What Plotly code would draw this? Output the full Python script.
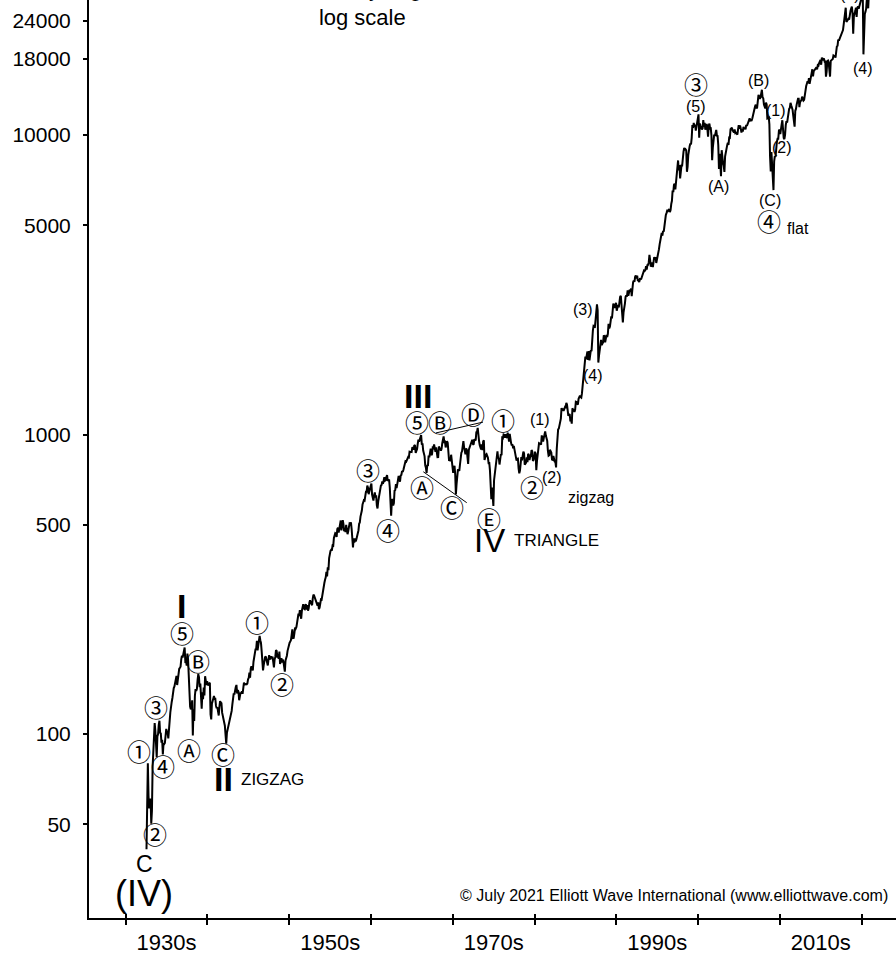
import numpy as np
import pandas as pd
import plotly.graph_objects as go

# Dow Jones Industrial Average, monthly values (turning-point months use the extreme)
djia_1930s = [41.2, 73.2, 79.9, 61.9, 56.4, 59.9,
              60.9, 50.2, 55.4, 77.7, 88.1, 98.1, 108.7, 102.4, 94.4, 83.6, 98.1, 99.9,
              107.2, 110.7, 101.0, 100.5, 93.6, 95.7, 85.5, 93.0, 92.6, 93.4, 103.0, 104.0,
              101.7, 100.9, 96.7, 109.5, 110.6, 118.2, 126.2, 127.9, 131.9, 139.7, 142.3, 144.1,
              149.5, 152.5, 156.3, 145.7, 152.6, 157.7, 164.9, 166.3, 167.8, 177.4, 182.7, 179.9,
              186.4, 187.2, 194.4, 174.3, 174.7, 169.3, 185.5, 177.4, 154.6, 138.8, 123.5, 121.0,
              121.9, 129.6, 98.9, 121.0, 110.6, 133.9, 141.2, 139.3, 141.5, 151.7, 158.4, 154.8,
              143.3, 147.3, 131.8, 121.4, 137.7, 130.6, 143.0, 134.4, 155.9, 151.9, 145.7, 150.2]
djia_1940s = [145.3, 146.5, 147.5, 148.4, 116.2, 111.8, 126.1, 129.6, 132.6, 133.9, 131.0, 131.1,
              124.1, 121.9, 122.7, 115.5, 115.3, 123.1, 128.8, 127.4, 126.8, 117.8, 114.7, 111.0,
              109.1, 106.6, 99.5, 92.9, 100.9, 103.3, 106.1, 107.0, 109.1, 114.1, 114.5, 119.4,
              125.6, 130.1, 136.6, 135.5, 142.1, 143.4, 145.8, 136.6, 140.1, 138.3, 129.6, 135.9,
              137.4, 136.3, 138.8, 136.2, 142.2, 148.4, 146.1, 146.7, 146.7, 146.5, 147.3, 152.3,
              153.8, 160.4, 154.1, 165.4, 168.3, 165.3, 162.9, 174.3, 181.7, 186.6, 192.0, 192.9,
              204.7, 190.1, 199.8, 206.8, 212.5, 205.6, 201.6, 189.2, 172.4, 163.1, 169.8, 177.2,
              180.4, 181.4, 177.2, 170.6, 169.3, 177.3, 183.2, 178.9, 177.5, 181.8, 179.4, 181.2,
              175.1, 166.8, 177.2, 180.9, 190.7, 189.5, 181.3, 181.7, 178.3, 188.6, 171.2, 177.3,
              179.1, 173.1, 177.1, 174.1, 168.4, 161.6, 175.9, 178.7, 182.5, 189.5, 193.6, 200.1]
djia_1950s = [201.8, 203.4, 206.1, 214.3, 223.4, 209.1, 209.4, 216.9, 226.4, 225.0, 227.6, 235.4,
              248.8, 252.1, 247.9, 259.1, 249.7, 242.6, 257.9, 270.3, 271.2, 262.4, 261.3, 269.2,
              270.7, 260.1, 269.5, 258.0, 262.9, 274.3, 279.6, 275.0, 270.6, 269.2, 283.7, 291.9,
              289.8, 284.3, 279.9, 274.8, 272.3, 268.3, 275.4, 261.2, 264.0, 276.3, 281.4, 280.9,
              292.4, 294.5, 303.5, 319.3, 327.5, 333.5, 347.9, 335.8, 360.5, 352.1, 386.8, 404.4,
              408.8, 411.9, 409.7, 425.7, 424.9, 451.4, 465.9, 468.2, 466.6, 454.9, 483.3, 488.4,
              470.7, 483.7, 511.8, 516.1, 478.1, 492.8, 517.8, 502.0, 475.3, 480.0, 472.8, 499.5,
              479.2, 464.6, 474.8, 494.4, 504.9, 503.3, 508.5, 484.4, 456.3, 419.8, 449.9, 435.7,
              450.0, 439.9, 446.8, 455.9, 462.7, 478.2, 503.0, 508.6, 532.1, 543.2, 557.5, 583.7,
              594.0, 603.5, 601.7, 623.8, 643.8, 643.6, 674.9, 664.4, 631.7, 646.6, 659.2, 679.4]
djia_1960s = [685.5, 630.1, 616.6, 601.7, 625.5, 641.0, 616.7, 626.0, 580.1, 566.1, 597.2, 615.9,
              648.2, 662.1, 676.6, 678.7, 696.7, 684.0, 705.4, 719.9, 701.2, 703.9, 721.6, 731.1,
              700.0, 708.1, 707.0, 665.3, 613.4, 535.8, 597.9, 609.2, 579.0, 589.8, 649.3, 652.1,
              682.9, 662.9, 682.5, 717.7, 727.0, 706.9, 695.4, 729.3, 732.8, 755.2, 750.5, 763.0,
              785.3, 800.1, 813.3, 810.8, 820.6, 831.5, 841.1, 838.5, 875.4, 873.1, 875.4, 874.1,
              902.9, 903.5, 889.1, 922.3, 918.0, 868.0, 881.7, 893.1, 930.6, 960.8, 946.7, 969.3,
              983.5, 995.2, 924.8, 933.7, 884.1, 870.1, 847.4, 788.4, 774.2, 744.3, 791.6, 785.7,
              849.9, 839.4, 866.0, 897.1, 852.6, 860.3, 904.2, 901.3, 926.7, 879.7, 875.8, 905.1,
              855.5, 840.5, 840.7, 912.2, 899.0, 897.8, 883.0, 896.0, 935.8, 952.4, 985.1, 943.8,
              946.1, 905.2, 935.5, 950.2, 937.6, 873.2, 815.5, 836.7, 813.1, 856.0, 812.3, 800.4]
djia_1970s = [744.1, 777.6, 785.6, 736.1, 631.2, 683.5, 734.1, 764.6, 760.7, 755.6, 794.1, 838.9,
              868.5, 878.8, 904.4, 950.8, 907.8, 891.1, 858.4, 898.1, 887.2, 839.0, 798.0, 890.2,
              902.2, 928.1, 940.7, 954.2, 960.7, 929.0, 924.7, 963.7, 953.3, 955.5, 1018.2, 1020.0,
              1051.7, 955.1, 951.0, 921.4, 901.4, 891.7, 926.4, 887.6, 947.1, 956.6, 822.3, 850.9,
              855.6, 860.5, 846.7, 836.8, 802.2, 802.4, 757.4, 678.6, 607.9, 665.5, 618.7, 577.6,
              703.7, 739.1, 768.2, 821.3, 832.3, 879.0, 831.5, 835.3, 793.9, 836.0, 860.7, 852.4,
              975.3, 972.6, 999.5, 996.9, 975.2, 1002.8, 984.6, 973.7, 1014.8, 964.9, 947.2, 1004.7,
              954.4, 936.4, 919.1, 926.9, 898.7, 916.3, 890.1, 861.5, 847.1, 818.4, 829.7, 831.2,
              769.9, 742.1, 757.4, 837.3, 840.6, 819.0, 862.3, 876.8, 865.8, 792.5, 799.0, 805.0,
              839.2, 808.8, 862.2, 854.9, 822.3, 842.0, 846.4, 887.6, 878.6, 815.7, 822.4, 838.7]
djia_1980s = [875.9, 863.1, 760.0, 817.1, 850.9, 867.9, 935.3, 932.6, 932.4, 924.5, 993.3, 964.0,
              947.3, 974.6, 1003.9, 1024.1, 991.8, 976.9, 952.3, 881.5, 850.0, 853.2, 889.0, 875.0,
              871.1, 824.4, 822.8, 848.4, 819.5, 811.9, 808.6, 776.9, 896.3, 991.7, 1039.3, 1046.5,
              1075.7, 1112.6, 1130.0, 1226.2, 1200.0, 1222.0, 1199.2, 1216.2, 1233.1, 1225.2, 1276.0, 1258.6,
              1220.6, 1154.6, 1164.9, 1170.8, 1104.9, 1132.4, 1086.6, 1224.4, 1206.7, 1207.4, 1188.9, 1211.6,
              1286.8, 1284.0, 1266.8, 1258.1, 1315.4, 1335.5, 1347.5, 1334.0, 1328.6, 1374.3, 1472.1, 1546.7,
              1571.0, 1709.1, 1818.6, 1784.0, 1876.7, 1892.7, 1775.3, 1898.3, 1767.6, 1877.8, 1914.2, 1896.0,
              2158.0, 2224.0, 2304.7, 2286.4, 2291.6, 2418.5, 2572.1, 2722.4, 2596.3, 1738.7, 1833.6, 1938.8,
              1958.2, 2071.6, 1988.1, 2032.3, 2031.1, 2141.7, 2128.7, 2031.7, 2112.9, 2148.7, 2114.5, 2168.6,
              2342.3, 2258.4, 2293.6, 2418.8, 2480.2, 2440.1, 2660.7, 2737.3, 2692.8, 2645.1, 2706.3, 2753.2]
djia_1990s = [2590.5, 2627.3, 2707.2, 2656.8, 2876.7, 2880.7, 2905.2, 2614.4, 2452.5, 2365.1, 2559.7, 2633.7,
              2736.4, 2882.2, 2913.9, 2887.9, 3027.5, 2906.8, 3024.8, 3043.6, 3016.8, 3069.1, 2894.7, 3168.8,
              3223.4, 3267.7, 3235.5, 3359.1, 3396.9, 3318.5, 3393.8, 3257.4, 3271.7, 3226.3, 3305.2, 3301.1,
              3310.0, 3370.8, 3435.1, 3427.6, 3527.4, 3516.1, 3539.5, 3651.3, 3555.1, 3680.6, 3684.0, 3754.1,
              3978.4, 3832.0, 3636.0, 3681.7, 3758.4, 3625.0, 3764.5, 3913.4, 3843.2, 3908.1, 3739.2, 3834.4,
              3843.9, 4011.1, 4157.7, 4321.3, 4465.1, 4556.1, 4708.5, 4610.6, 4789.1, 4755.5, 5074.5, 5117.1,
              5395.3, 5485.6, 5587.1, 5569.1, 5643.2, 5654.6, 5528.9, 5616.2, 5882.2, 6029.4, 6521.7, 6448.3,
              6813.1, 6877.7, 6583.5, 7009.0, 7331.0, 7672.8, 8222.6, 7622.4, 7945.3, 7161.2, 7823.1, 7908.3,
              7906.5, 8545.7, 8799.8, 9063.4, 8900.0, 8952.0, 8883.3, 7539.1, 7842.6, 8592.1, 9116.6, 9181.4,
              9358.8, 9306.6, 9786.2, 10789.0, 10559.7, 10970.8, 10655.2, 10829.3, 10337.0, 10729.9, 10877.8, 11497.1]
djia_2000s = [11723.0, 9796.0, 10921.9, 10733.9, 10522.3, 10447.9, 10522.0, 11215.1, 10650.9, 10971.1, 10414.5, 10786.9,
              10887.4, 10495.3, 9878.8, 10735.0, 10911.9, 10502.4, 10522.8, 9949.8, 8235.8, 9075.1, 9851.6, 10021.5,
              9920.0, 10106.1, 10403.9, 9946.2, 9925.3, 9243.3, 7702.3, 8663.5, 7591.9, 7286.3, 8896.1, 8341.6,
              8053.8, 7891.1, 7524.1, 8480.1, 8850.3, 8985.4, 9233.8, 9415.8, 9275.1, 9801.1, 9782.5, 10453.9,
              10488.1, 10583.9, 10357.7, 10225.6, 10188.5, 10435.5, 10139.7, 10173.9, 10080.3, 10027.5, 10428.0, 10783.0,
              10489.9, 10766.2, 10503.8, 10192.5, 10467.5, 10275.0, 10640.9, 10481.6, 10568.7, 10440.1, 10805.9, 10717.5,
              10864.9, 10993.4, 11109.3, 11367.1, 11168.3, 11150.2, 11185.7, 11381.2, 11679.1, 12080.7, 12221.9, 12463.2,
              12621.7, 12268.6, 12354.4, 13062.9, 13627.6, 13408.6, 13212.0, 13357.7, 13895.6, 14164.5, 13371.7, 13264.8,
              12650.4, 12266.4, 12262.9, 12820.1, 12638.3, 11350.0, 11378.0, 11543.6, 10850.7, 8451.2, 7552.3, 8776.4,
              8000.9, 7062.9, 6547.1, 8168.1, 8500.3, 8447.0, 9171.6, 9496.3, 9712.3, 9712.7, 10344.8, 10428.1]
djia_2010s = [10067.3, 10325.3, 10856.6, 11205.0, 10136.6, 9774.0, 9686.5, 10014.7, 10788.1, 11118.5, 11006.0, 11577.5,
              11891.9, 12226.3, 12319.7, 12810.5, 12569.8, 12414.3, 12143.2, 11613.5, 10913.4, 10655.3, 12045.7, 12217.6,
              12632.9, 12952.1, 13212.0, 13213.6, 12393.5, 12880.1, 13008.7, 13090.8, 13437.1, 13096.5, 13025.6, 13104.1,
              13860.6, 14054.5, 14578.5, 14839.8, 15115.6, 14909.6, 15499.5, 14810.3, 15129.7, 15545.8, 16086.4, 16576.7,
              15698.9, 16321.7, 16457.7, 16580.8, 16717.2, 16826.6, 16563.3, 17098.5, 17042.9, 17390.5, 17828.2, 17823.1,
              17165.0, 18133.0, 17776.1, 17840.5, 18010.7, 17619.5, 17689.9, 15666.4, 16284.7, 17663.5, 17719.9, 17425.0,
              16466.3, 15660.2, 17685.1, 17773.6, 17787.2, 17930.0, 18432.2, 18400.9, 18308.2, 18142.4, 19123.6, 19762.6,
              19864.1, 20812.2, 20663.2, 20940.5, 21008.7, 21349.6, 21891.1, 21948.1, 22405.1, 23377.2, 24272.4, 24719.2,
              26616.7, 23860.5, 24103.1, 24163.2, 24415.8, 24271.4, 25415.2, 25964.8, 26458.3, 26828.4, 25538.5, 21792.2,
              24999.7, 25916.0, 25928.7, 26592.9, 24815.0, 26600.0, 26864.3, 26403.3, 26916.8, 27046.2, 28051.4, 28538.4]
djia_2020s = [28256.0, 29551.4, 18591.9, 24345.7, 25383.1, 25812.9, 26428.3, 28430.1, 27781.7, 26501.6, 29638.6, 30606.5,
              29982.6, 30932.4, 32981.6, 33874.9, 34529.5, 34502.5, 35000.0]

first_month = "1932-07-01"

# Triangle boundary lines (wave IV), as year / index level
tri_upper_years = [1967.94, 1973.69]
tri_upper_vals = [1012, 1100]
tri_lower_years = [1966.39, 1971.70]
tri_lower_vals = [751, 592]

# Axis ticks
decade_ticks = list(range(1930, 2030, 10))
decade_label_pos = [1935, 1955, 1975, 1995, 2015]
decade_labels = ["1930s", "1950s", "1970s", "1990s", "2010s"]
y_tickvals = [50, 100, 500, 1000, 5000, 10000, 18000, 24000]
y_ticktext = [str(v) for v in y_tickvals]

# Elliott wave labels: (text, year, level, kind)
wave_labels = [
    ("C", 1932.24, 36.8, "big"),
    ("(IV)", 1932.24, 29.4, "huge"),
    ("\u2460", 1931.63, 88.4, "circ"),
    ("\u2461", 1933.64, 46.4, "circ"),
    ("\u2462", 1933.70, 123.1, "circ"),
    ("\u2463", 1934.56, 78.2, "circ"),
    ("\u2464", 1936.88, 219.0, "circ"),
    ("<b>I</b>", 1936.88, 268.5, "roman"),
    ("\u24b6", 1937.74, 89.1, "circ"),
    ("\u24b7", 1938.84, 175.3, "circ"),
    ("\u24b8", 1941.90, 85.8, "circ"),
    ("<b>II</b>", 1941.90, 70.7, "roman"),
    ("\u2460", 1946.06, 236.6, "circ"),
    ("\u2461", 1949.12, 146.9, "circ"),
    ("\u2462", 1959.63, 767.0, "circ"),
    ("\u2463", 1962.07, 483.6, "circ"),
    ("<b>III</b>", 1965.74, 1344.0, "roman"),
    ("\u2464", 1965.62, 1101.0, "circ"),
    ("\u24b7", 1968.43, 1101.0, "circ"),
    ("\u24b9", 1972.46, 1171.0, "circ"),
    ("\u2460", 1976.13, 1118.0, "circ"),
    ("\u24b6", 1966.23, 673.0, "circ"),
    ("\u24b8", 1969.90, 577.0, "circ"),
    ("\u24ba", 1974.42, 526.0, "circ"),
    ("IV", 1974.54, 441.0, "romanreg"),
    ("(1)", 1980.66, 1118.0, "paren"),
    ("\u2461", 1979.68, 668.0, "circ"),
    ("(2)", 1982.13, 721.0, "paren"),
    ("(3)", 1985.92, 2624.0, "paren"),
    ("(4)", 1987.14, 1580.0, "paren"),
    ("\u2462", 1999.68, 14804.0, "circ"),
    ("(5)", 1999.68, 12405.0, "paren"),
    ("(B)", 2007.32, 15265.0, "paren"),
    ("(A)", 2002.43, 6755.0, "paren"),
    ("(1)", 2009.52, 12119.0, "paren"),
    ("(2)", 2010.25, 9050.0, "paren"),
    ("(C)", 2008.78, 6067.0, "paren"),
    ("\u2463", 2008.72, 5163.0, "circ"),
    ("(4)", 2020.16, 16738.0, "paren"),
]
# Label sitting at the top edge (anchored inside the range, pushed up)
edge_label = ("(3)", 2018.56, 27870.0, 7)

# Pattern names, left-aligned: (text, year, level, size)
pattern_labels = [
    ("ZIGZAG", 1943.85, 70.7, 17),
    ("TRIANGLE", 1977.24, 441.0, 17),
    ("zigzag", 1983.84, 618.0, 16),
    ("flat", 2010.62, 4855.0, 16),
]

values = (djia_1930s + djia_1940s + djia_1950s + djia_1960s + djia_1970s
          + djia_1980s + djia_1990s + djia_2000s + djia_2010s + djia_2020s)
months = pd.date_range(first_month, periods=len(values), freq="MS")
years = months.year + (months.month - 0.5) / 12.0

SANS = "Liberation Sans, Arial, sans-serif"
CIRC = "Noto Sans CJK JP, DejaVu Sans, sans-serif"

fig = go.Figure()
fig.add_trace(go.Scatter(x=years, y=values, mode="lines",
                         line=dict(color="black", width=2),
                         hoverinfo="skip", showlegend=False))
for xs, ys in ((tri_upper_years, tri_upper_vals), (tri_lower_years, tri_lower_vals)):
    fig.add_trace(go.Scatter(x=xs, y=ys, mode="lines",
                             line=dict(color="black", width=1),
                             hoverinfo="skip", showlegend=False))
# empty traces that anchor the overlay axes (inner tick marks, decade labels)
fig.add_trace(go.Scatter(x=[], y=[], xaxis="x2", showlegend=False, hoverinfo="skip"))
fig.add_trace(go.Scatter(x=[], y=[], xaxis="x3", showlegend=False, hoverinfo="skip"))

style = {
    "circ": dict(family=CIRC, size=24),
    "paren": dict(family=SANS, size=16),
    "big": dict(family=SANS, size=23),
    "huge": dict(family=SANS, size=36),
    "roman": dict(family=SANS, size=34),
    "romanreg": dict(family=SANS, size=33),
}
annotations = []
for text, yr, lvl, kind in wave_labels:
    f = style[kind]
    annotations.append(dict(text=text, x=yr, y=np.log10(lvl), xref="x", yref="y",
                            showarrow=False, xanchor="center", yanchor="middle",
                            font=dict(family=f["family"], size=f["size"], color="black")))
text, yr, lvl, shift = edge_label
annotations.append(dict(text=text, x=yr, y=np.log10(lvl), xref="x", yref="y", yshift=shift,
                        showarrow=False, xanchor="center", yanchor="middle",
                        font=dict(family=SANS, size=16, color="black")))
for text, yr, lvl, size in pattern_labels:
    annotations.append(dict(text=text, x=yr, y=np.log10(lvl), xref="x", yref="y",
                            showarrow=False, xanchor="left", yanchor="middle",
                            font=dict(family=SANS, size=size, color="black")))
annotations.append(dict(text="monthly avg<br>log scale", x=0.3383, y=0.9651,
                        xref="paper", yref="paper", showarrow=False,
                        xanchor="center", yanchor="bottom", align="center",
                        font=dict(family=SANS, size=22, color="black")))
annotations.append(dict(text="\u00a9 July 2021 Elliott Wave International (www.elliottwave.com)",
                        x=0.9926, y=0.025, xref="paper", yref="paper", showarrow=False,
                        xanchor="right", yanchor="middle",
                        font=dict(family=SANS, size=16, color="black")))

x_range = [1925.512, 2024.19]
y_range = [1.3856, 4.4508]

fig.update_layout(
    width=896, height=956,
    margin=dict(l=89, r=0, t=0, b=38),
    paper_bgcolor="white", plot_bgcolor="white",
    showlegend=False,
    font=dict(family=SANS, color="black"),
    xaxis=dict(range=x_range, tickvals=decade_ticks, showticklabels=False,
               ticks="outside", ticklen=5, tickwidth=1.5, tickcolor="black",
               showline=True, linewidth=2, linecolor="black",
               showgrid=False, zeroline=False),
    xaxis2=dict(overlaying="x", matches="x", tickvals=decade_ticks, showticklabels=False,
                ticks="inside", ticklen=4, tickwidth=1.5, tickcolor="black",
                showline=False, showgrid=False, zeroline=False),
    xaxis3=dict(overlaying="x", matches="x", tickvals=decade_label_pos, ticktext=decade_labels,
                ticks="", showline=False, showgrid=False, zeroline=False,
                tickfont=dict(family=SANS, size=22, color="black"), ticklabelstandoff=9),
    yaxis=dict(type="log", range=y_range, tickvals=y_tickvals, ticktext=y_ticktext,
               ticks="outside", ticklen=4, tickwidth=1.5, tickcolor="black",
               showline=True, linewidth=2, linecolor="black",
               showgrid=False, zeroline=False,
               tickfont=dict(family=SANS, size=21, color="black"), ticklabelstandoff=8),
    annotations=annotations,
)

fig.write_html("out.html")
